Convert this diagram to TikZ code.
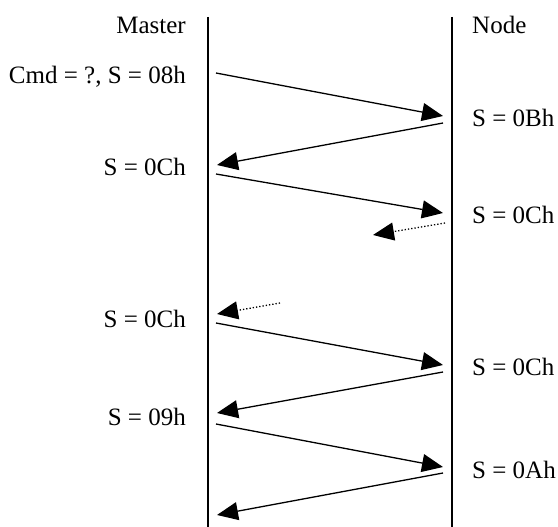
\documentclass[tikz,border=0pt]{standalone}
\usepackage{fontspec}
\setmainfont{Liberation Serif}
\usetikzlibrary{arrows.meta}
\usetikzlibrary{positioning}

\begin{document}
\begin{tikzpicture}[every node/.style={inner sep=0pt, font=\fontsize{25}{27}\selectfont},
  msg/.style={line width=1.3pt, -{Triangle[length=21pt, width=18pt]}},
  lost/.style={line width=1.3pt, dotted, -{Triangle[length=21pt, width=18pt]}}]
\useasboundingbox (0pt, 0pt) rectangle (558pt, -527pt);
% lifelines
\coordinate (mtop) at (208.0pt, -17.0pt);
\coordinate (mbot) at (208.0pt, -527.0pt);
\coordinate (ntop) at (452.0pt, -17.0pt);
\coordinate (nbot) at (452.0pt, -527.0pt);
\draw [line width=1.3pt, color=black] (mtop) to (mbot);
\draw [line width=1.3pt, color=black] (ntop) to (nbot);
% labels
\node (master) [anchor=east] at (186.0pt, -25.0pt) {Master};
\node (node) [anchor=west] at (472.0pt, -25.0pt) {Node};
\node (m1) [anchor=east] at (186.0pt, -77.0pt) {Cmd = ?, S = 08h};
\node (n1) [anchor=west] at (472.0pt, -118.0pt) {S = 0Bh};
\node (m2) [anchor=east] at (186.0pt, -167.0pt) {S = 0Ch};
\node (n2) [anchor=west] at (472.0pt, -215.0pt) {S = 0Ch};
\node (m3) [anchor=east] at (186.0pt, -319.0pt) {S = 0Ch};
\node (n3) [anchor=west] at (472.0pt, -367.0pt) {S = 0Ch};
\node (m4) [anchor=east] at (186.0pt, -417.0pt) {S = 09h};
\node (n4) [anchor=west] at (472.0pt, -470.0pt) {S = 0Ah};
% message end points
\coordinate (a1) at (216.0pt, -73.0pt);
\coordinate (b1) at (443.0pt, -116.0pt);
\coordinate (a2) at (443.0pt, -123.0pt);
\coordinate (b2) at (217.0pt, -165.0pt);
\coordinate (a3) at (216.0pt, -174.0pt);
\coordinate (b3) at (443.0pt, -213.0pt);
\coordinate (d1) at (445.0pt, -223.0pt);
\coordinate (e1) at (373.0pt, -235.0pt);
\coordinate (d2) at (280.0pt, -303.0pt);
\coordinate (e2) at (217.0pt, -314.0pt);
\coordinate (a4) at (216.0pt, -323.0pt);
\coordinate (b4) at (443.0pt, -365.0pt);
\coordinate (a5) at (443.0pt, -372.0pt);
\coordinate (b5) at (217.0pt, -413.0pt);
\coordinate (a6) at (216.0pt, -424.0pt);
\coordinate (b6) at (443.0pt, -467.0pt);
\coordinate (a7) at (443.0pt, -473.0pt);
\coordinate (b7) at (217.0pt, -515.0pt);
\draw [msg] (a1) to (b1);
\draw [msg] (a2) to (b2);
\draw [msg] (a3) to (b3);
\draw [lost] (d1) to (e1);
\draw [lost] (d2) to (e2);
\draw [msg] (a4) to (b4);
\draw [msg] (a5) to (b5);
\draw [msg] (a6) to (b6);
\draw [msg] (a7) to (b7);
\end{tikzpicture}
\end{document}
